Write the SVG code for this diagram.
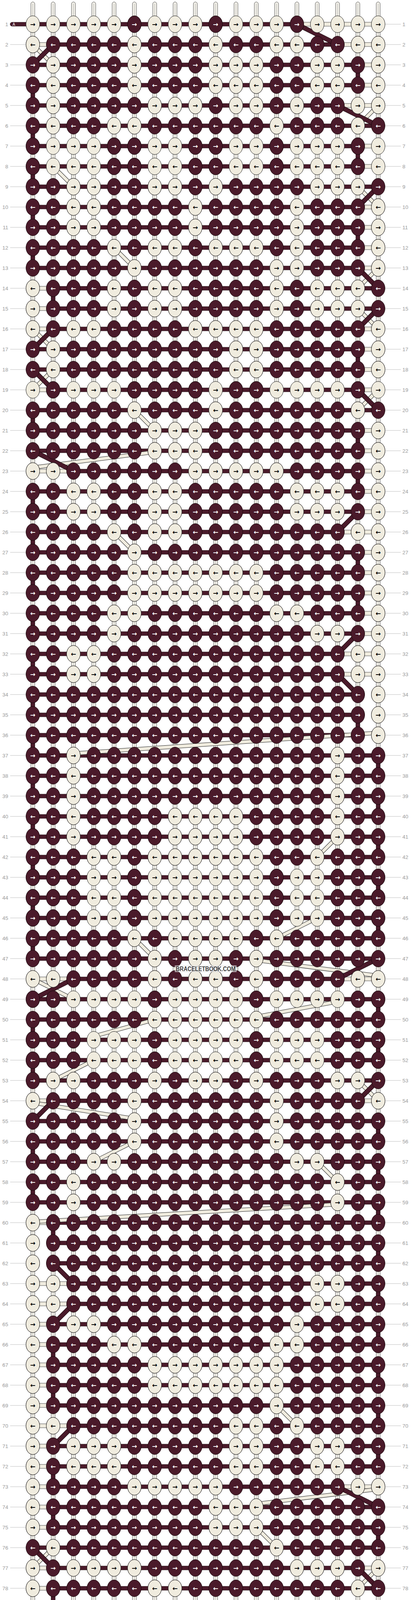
<svg xmlns="http://www.w3.org/2000/svg" xmlns:xlink="http://www.w3.org/1999/xlink" width="1052" height="4960" viewBox="0 0 1052 4960">
<style>
.kd{fill:#4a1a2a;stroke:#140508;stroke-width:1}
.kl{fill:#f0ecdf;stroke:#1a1a1a;stroke-width:1}
.aw,.ab{font-family:"DejaVu Sans",sans-serif;font-weight:bold;font-size:16px;text-anchor:middle;dominant-baseline:central}
.aw{fill:#ffffff}
.ab{fill:#000000}
.hd{fill:#4a1a2a;stroke:#140508;stroke-width:.8}
.hl{fill:#f0ecdf;stroke:#222;stroke-width:.8}
.vs{fill:#f5f3ec;stroke:#222;stroke-width:.8}
.vc{fill:none;stroke:#8a8a8a;stroke-width:.8}
.vd{fill:#4a1a2a;stroke:#140508;stroke-width:.8}
.ddo{fill:none;stroke:#140508;stroke-width:12}
.ddi{fill:none;stroke:#4a1a2a;stroke-width:10}
.dlo{fill:none;stroke:#222;stroke-width:10}
.dli{fill:none;stroke:#f0ecdf;stroke-width:8}
.gl{fill:none;stroke:#bdbdbd;stroke-width:1}
.nl,.nr{font-family:"Liberation Sans",Arial,sans-serif;font-size:13.5px;fill:#9a9a9a}
.nl{text-anchor:end}
.nr{text-anchor:start}
.pa{font-family:"Liberation Sans",Arial,sans-serif;font-size:10px;fill:#ffffff}
.wm{font-family:"Liberation Sans",Arial,sans-serif;font-weight:bold;font-size:16px;fill:#3c3c3c}
</style>
<defs>
<g id="dr"><ellipse class="kd" rx="17.5" ry="21.5"/><text class="aw">→</text></g>
<g id="dl"><ellipse class="kd" rx="17.5" ry="21.5"/><text class="aw">←</text></g>
<g id="lr"><ellipse class="kl" rx="17.5" ry="21.5"/><text class="ab">→</text></g>
<g id="ll"><ellipse class="kl" rx="17.5" ry="21.5"/><text class="ab">←</text></g>
<g id="RDr"><use href="#dr" x="84"/><use href="#dr" x="136"/><use href="#dr" x="188"/><use href="#dr" x="240"/><use href="#dr" x="292"/><use href="#dr" x="344"/><use href="#dr" x="396"/><use href="#dr" x="448"/><use href="#dr" x="500"/><use href="#dr" x="552"/><use href="#dr" x="604"/><use href="#dr" x="656"/><use href="#dr" x="708"/><use href="#dr" x="760"/><use href="#dr" x="812"/><use href="#dr" x="864"/><use href="#dr" x="916"/><use href="#dr" x="968"/></g>
<g id="RDl"><use href="#dl" x="84"/><use href="#dl" x="136"/><use href="#dl" x="188"/><use href="#dl" x="240"/><use href="#dl" x="292"/><use href="#dl" x="344"/><use href="#dl" x="396"/><use href="#dl" x="448"/><use href="#dl" x="500"/><use href="#dl" x="552"/><use href="#dl" x="604"/><use href="#dl" x="656"/><use href="#dl" x="708"/><use href="#dl" x="760"/><use href="#dl" x="812"/><use href="#dl" x="864"/><use href="#dl" x="916"/><use href="#dl" x="968"/></g>
<g id="RLr"><use href="#lr" x="84"/><use href="#lr" x="136"/><use href="#lr" x="188"/><use href="#lr" x="240"/><use href="#lr" x="292"/><use href="#lr" x="344"/><use href="#lr" x="396"/><use href="#lr" x="448"/><use href="#lr" x="500"/><use href="#lr" x="552"/><use href="#lr" x="604"/><use href="#lr" x="656"/><use href="#lr" x="708"/><use href="#lr" x="760"/><use href="#lr" x="812"/><use href="#lr" x="864"/><use href="#lr" x="916"/><use href="#lr" x="968"/></g>
<g id="RLl"><use href="#ll" x="84"/><use href="#ll" x="136"/><use href="#ll" x="188"/><use href="#ll" x="240"/><use href="#ll" x="292"/><use href="#ll" x="344"/><use href="#ll" x="396"/><use href="#ll" x="448"/><use href="#ll" x="500"/><use href="#ll" x="552"/><use href="#ll" x="604"/><use href="#ll" x="656"/><use href="#ll" x="708"/><use href="#ll" x="760"/><use href="#ll" x="812"/><use href="#ll" x="864"/><use href="#ll" x="916"/><use href="#ll" x="968"/></g>
<path id="GL" class="gl" d="M26 0H66M986 0H1026"/>
<path id="GR" class="gl" d="M986 0H1026"/>
</defs>
<rect width="1052" height="4960" fill="#ffffff"/>
<g id="connectors">
<g id="strings">
<rect class="vs" x="79" y="5" width="10" height="4950" rx="5"/><rect class="vs" x="131" y="5" width="10" height="4950" rx="5"/><rect class="vs" x="183" y="5" width="10" height="4950" rx="5"/><rect class="vs" x="235" y="5" width="10" height="4950" rx="5"/><rect class="vs" x="287" y="5" width="10" height="4950" rx="5"/><rect class="vs" x="339" y="5" width="10" height="4950" rx="5"/><rect class="vs" x="391" y="5" width="10" height="4950" rx="5"/><rect class="vs" x="443" y="5" width="10" height="4950" rx="5"/><rect class="vs" x="495" y="5" width="10" height="4950" rx="5"/><rect class="vs" x="547" y="5" width="10" height="4950" rx="5"/><rect class="vs" x="599" y="5" width="10" height="4950" rx="5"/><rect class="vs" x="651" y="5" width="10" height="4950" rx="5"/><rect class="vs" x="703" y="5" width="10" height="4950" rx="5"/><rect class="vs" x="755" y="5" width="10" height="4950" rx="5"/><rect class="vs" x="807" y="5" width="10" height="4950" rx="5"/><rect class="vs" x="859" y="5" width="10" height="4950" rx="5"/><rect class="vs" x="911" y="5" width="10" height="4950" rx="5"/><rect class="vs" x="963" y="5" width="10" height="4950" rx="5"/>
<path class="vc" d="M84 9V4951M136 9V4951M188 9V4951M240 9V4951M292 9V4951M344 9V4951M396 9V4951M448 9V4951M500 9V4951M552 9V4951M604 9V4951M656 9V4951M708 9V4951M760 9V4951M812 9V4951M864 9V4951M916 9V4951M968 9V4951"/>
</g>
<g id="vertical-links">
<rect class="vd" x="911" y="166" width="10" height="52"/><rect class="vd" x="79" y="218" width="10" height="52"/><rect class="vd" x="79" y="322" width="10" height="52"/><rect class="vd" x="911" y="374" width="10" height="52"/><rect class="vd" x="79" y="426" width="10" height="52"/><rect class="vd" x="79" y="530" width="10" height="52"/><rect class="vd" x="911" y="582" width="10" height="52"/><rect class="vd" x="79" y="634" width="10" height="52"/><rect class="vd" x="131" y="738" width="10" height="52"/><rect class="vd" x="911" y="894" width="10" height="52"/><rect class="vd" x="79" y="1050" width="10" height="52"/><rect class="vd" x="911" y="1102" width="10" height="52"/><rect class="vd" x="911" y="1206" width="10" height="52"/><rect class="vd" x="79" y="1258" width="10" height="52"/><rect class="vd" x="79" y="1362" width="10" height="52"/><rect class="vd" x="911" y="1414" width="10" height="52"/><rect class="vd" x="79" y="1466" width="10" height="52"/><rect class="vd" x="911" y="1518" width="10" height="52"/><rect class="vd" x="79" y="1570" width="10" height="52"/><rect class="vd" x="79" y="1674" width="10" height="52"/><rect class="vd" x="79" y="1778" width="10" height="52"/><rect class="vd" x="911" y="1830" width="10" height="52"/><rect class="vd" x="79" y="1882" width="10" height="52"/><rect class="vd" x="963" y="1934" width="10" height="52"/><rect class="vd" x="79" y="1986" width="10" height="52"/><rect class="vd" x="963" y="2038" width="10" height="52"/><rect class="vd" x="79" y="2090" width="10" height="52"/><rect class="vd" x="963" y="2142" width="10" height="52"/><rect class="vd" x="79" y="2194" width="10" height="52"/><rect class="vd" x="963" y="2246" width="10" height="52"/><rect class="vd" x="79" y="2298" width="10" height="52"/><rect class="vd" x="963" y="2350" width="10" height="52"/><rect class="vd" x="79" y="2402" width="10" height="52"/><rect class="vd" x="963" y="2558" width="10" height="52"/><rect class="vd" x="79" y="2610" width="10" height="52"/><rect class="vd" x="963" y="2662" width="10" height="52"/><rect class="vd" x="79" y="2714" width="10" height="52"/><rect class="vd" x="963" y="2870" width="10" height="52"/><rect class="vd" x="79" y="2922" width="10" height="52"/><rect class="vd" x="963" y="2974" width="10" height="52"/><rect class="vd" x="79" y="3026" width="10" height="52"/><rect class="vd" x="963" y="3078" width="10" height="52"/><rect class="vd" x="131" y="3130" width="10" height="52"/><rect class="vd" x="963" y="3182" width="10" height="52"/><rect class="vd" x="963" y="3286" width="10" height="52"/><rect class="vd" x="963" y="3390" width="10" height="52"/><rect class="vd" x="131" y="3442" width="10" height="52"/><rect class="vd" x="963" y="3494" width="10" height="52"/><rect class="vd" x="131" y="3546" width="10" height="52"/><rect class="vd" x="963" y="3598" width="10" height="52"/><rect class="vd" x="963" y="3702" width="10" height="52"/><rect class="vd" x="131" y="3754" width="10" height="52"/><rect class="vd" x="131" y="3858" width="10" height="52"/><rect class="vd" x="963" y="3910" width="10" height="52"/><rect class="vd" x="131" y="4066" width="10" height="52"/><rect class="vd" x="911" y="4222" width="10" height="52"/><rect class="vd" x="963" y="4326" width="10" height="52"/><rect class="vd" x="131" y="4378" width="10" height="52"/><rect class="vd" x="963" y="4430" width="10" height="52"/><rect class="vd" x="963" y="4534" width="10" height="52"/><rect class="vd" x="963" y="4638" width="10" height="52"/><rect class="vd" x="963" y="4742" width="10" height="52"/>
</g>
<g id="row-threads">
<rect class="hd" x="26" y="57" width="734" height="10" rx="5"/><rect class="hl" x="760" y="57" width="208" height="10"/>
<rect class="hl" x="84" y="109" width="52" height="10"/><rect class="hd" x="136" y="109" width="728" height="10"/><rect class="hl" x="864" y="109" width="104" height="10"/>
<rect class="hd" x="84" y="161" width="832" height="10"/><rect class="hl" x="916" y="161" width="52" height="10"/>
<rect class="hd" x="84" y="213" width="832" height="10"/><rect class="hl" x="916" y="213" width="52" height="10"/>
<rect class="hd" x="84" y="265" width="780" height="10"/><rect class="hl" x="864" y="265" width="104" height="10"/>
<rect class="hd" x="84" y="317" width="884" height="10"/>
<rect class="hd" x="84" y="369" width="832" height="10"/><rect class="hl" x="916" y="369" width="52" height="10"/>
<rect class="hd" x="84" y="421" width="832" height="10"/><rect class="hl" x="916" y="421" width="52" height="10"/>
<rect class="hd" x="84" y="473" width="884" height="10"/>
<rect class="hd" x="84" y="525" width="832" height="10"/><rect class="hl" x="916" y="525" width="52" height="10"/>
<rect class="hd" x="84" y="577" width="832" height="10"/><rect class="hl" x="916" y="577" width="52" height="10"/>
<rect class="hd" x="84" y="629" width="832" height="10"/><rect class="hl" x="916" y="629" width="52" height="10"/>
<rect class="hd" x="84" y="681" width="832" height="10"/><rect class="hl" x="916" y="681" width="52" height="10"/>
<rect class="hl" x="84" y="733" width="52" height="10"/><rect class="hd" x="136" y="733" width="832" height="10"/>
<rect class="hl" x="84" y="785" width="52" height="10"/><rect class="hd" x="136" y="785" width="832" height="10"/>
<rect class="hl" x="84" y="837" width="52" height="10"/><rect class="hd" x="136" y="837" width="780" height="10"/><rect class="hl" x="916" y="837" width="52" height="10"/>
<rect class="hd" x="84" y="889" width="832" height="10"/><rect class="hl" x="916" y="889" width="52" height="10"/>
<rect class="hd" x="84" y="941" width="832" height="10"/><rect class="hl" x="916" y="941" width="52" height="10"/>
<rect class="hl" x="84" y="993" width="52" height="10"/><rect class="hd" x="136" y="993" width="780" height="10"/><rect class="hl" x="916" y="993" width="52" height="10"/>
<rect class="hd" x="84" y="1045" width="884" height="10"/>
<rect class="hd" x="84" y="1097" width="832" height="10"/><rect class="hl" x="916" y="1097" width="52" height="10"/>
<rect class="hd" x="84" y="1149" width="832" height="10"/><rect class="hl" x="916" y="1149" width="52" height="10"/>
<rect class="hl" x="84" y="1201" width="104" height="10"/><rect class="hd" x="188" y="1201" width="728" height="10"/><rect class="hl" x="916" y="1201" width="52" height="10"/>
<rect class="hd" x="84" y="1253" width="832" height="10"/><rect class="hl" x="916" y="1253" width="52" height="10"/>
<rect class="hd" x="84" y="1305" width="832" height="10"/><rect class="hl" x="916" y="1305" width="52" height="10"/>
<rect class="hd" x="84" y="1357" width="780" height="10"/><rect class="hl" x="864" y="1357" width="104" height="10"/>
<rect class="hd" x="84" y="1409" width="832" height="10"/><rect class="hl" x="916" y="1409" width="52" height="10"/>
<rect class="hd" x="84" y="1461" width="832" height="10"/><rect class="hl" x="916" y="1461" width="52" height="10"/>
<rect class="hd" x="84" y="1513" width="832" height="10"/><rect class="hl" x="916" y="1513" width="52" height="10"/>
<rect class="hd" x="84" y="1565" width="832" height="10"/><rect class="hl" x="916" y="1565" width="52" height="10"/>
<rect class="hd" x="84" y="1617" width="832" height="10"/><rect class="hl" x="916" y="1617" width="52" height="10"/>
<rect class="hd" x="84" y="1669" width="780" height="10"/><rect class="hl" x="864" y="1669" width="104" height="10"/>
<rect class="hd" x="84" y="1721" width="780" height="10"/><rect class="hl" x="864" y="1721" width="104" height="10"/>
<rect class="hd" x="84" y="1773" width="832" height="10"/>
<rect class="hd" x="84" y="1825" width="832" height="10"/>
<rect class="hd" x="84" y="1877" width="832" height="10"/>
<rect class="hd" x="84" y="1929" width="884" height="10"/>
<rect class="hd" x="84" y="1981" width="884" height="10"/>
<rect class="hd" x="84" y="2033" width="884" height="10"/>
<rect class="hd" x="84" y="2085" width="884" height="10"/>
<rect class="hd" x="84" y="2137" width="884" height="10"/>
<rect class="hd" x="84" y="2189" width="884" height="10"/>
<rect class="hd" x="84" y="2241" width="884" height="10"/>
<rect class="hd" x="84" y="2293" width="884" height="10"/>
<rect class="hd" x="84" y="2345" width="884" height="10"/>
<rect class="hd" x="84" y="2397" width="884" height="10"/>
<rect class="hd" x="84" y="2449" width="884" height="10"/>
<rect class="hl" x="84" y="2501" width="104" height="10"/><rect class="hd" x="188" y="2501" width="676" height="10"/><rect class="hl" x="864" y="2501" width="104" height="10"/>
<rect class="hd" x="84" y="2553" width="884" height="10"/>
<rect class="hd" x="84" y="2605" width="884" height="10"/>
<rect class="hd" x="84" y="2657" width="884" height="10"/>
<rect class="hd" x="84" y="2709" width="884" height="10"/>
<rect class="hd" x="84" y="2761" width="884" height="10"/>
<rect class="hl" x="84" y="2813" width="52" height="10"/><rect class="hd" x="136" y="2813" width="780" height="10"/><rect class="hl" x="916" y="2813" width="52" height="10"/>
<rect class="hd" x="84" y="2865" width="884" height="10"/>
<rect class="hd" x="84" y="2917" width="884" height="10"/>
<rect class="hd" x="84" y="2969" width="884" height="10"/>
<rect class="hd" x="84" y="3021" width="884" height="10"/>
<rect class="hd" x="84" y="3073" width="884" height="10"/>
<rect class="hl" x="84" y="3125" width="52" height="10"/><rect class="hd" x="136" y="3125" width="832" height="10"/>
<rect class="hd" x="136" y="3177" width="832" height="10"/>
<rect class="hd" x="136" y="3229" width="832" height="10"/>
<rect class="hl" x="84" y="3281" width="104" height="10"/><rect class="hd" x="188" y="3281" width="780" height="10"/>
<rect class="hl" x="84" y="3333" width="104" height="10"/><rect class="hd" x="188" y="3333" width="780" height="10"/>
<rect class="hl" x="84" y="3385" width="52" height="10"/><rect class="hd" x="136" y="3385" width="832" height="10"/>
<rect class="hl" x="84" y="3437" width="52" height="10"/><rect class="hd" x="136" y="3437" width="832" height="10"/>
<rect class="hl" x="84" y="3489" width="52" height="10"/><rect class="hd" x="136" y="3489" width="832" height="10"/>
<rect class="hl" x="84" y="3541" width="52" height="10"/><rect class="hd" x="136" y="3541" width="832" height="10"/>
<rect class="hl" x="84" y="3593" width="52" height="10"/><rect class="hd" x="136" y="3593" width="832" height="10"/>
<rect class="hl" x="84" y="3645" width="104" height="10"/><rect class="hd" x="188" y="3645" width="780" height="10"/>
<rect class="hl" x="84" y="3697" width="52" height="10"/><rect class="hd" x="136" y="3697" width="832" height="10"/>
<rect class="hl" x="84" y="3749" width="52" height="10"/><rect class="hd" x="136" y="3749" width="832" height="10"/>
<rect class="hl" x="84" y="3801" width="52" height="10"/><rect class="hd" x="136" y="3801" width="728" height="10"/><rect class="hl" x="864" y="3801" width="104" height="10"/>
<rect class="hl" x="84" y="3853" width="52" height="10"/><rect class="hd" x="136" y="3853" width="832" height="10"/>
<rect class="hl" x="84" y="3905" width="52" height="10"/><rect class="hd" x="136" y="3905" width="832" height="10"/>
<rect class="hd" x="84" y="3957" width="884" height="10"/>
<rect class="hl" x="84" y="4009" width="52" height="10"/><rect class="hd" x="136" y="4009" width="780" height="10"/><rect class="hl" x="916" y="4009" width="52" height="10"/>
<rect class="hl" x="84" y="4061" width="52" height="10"/><rect class="hd" x="136" y="4061" width="832" height="10"/>
<rect class="hl" x="84" y="4113" width="52" height="10"/><rect class="hd" x="136" y="4113" width="832" height="10"/>
<rect class="hl" x="84" y="4165" width="52" height="10"/><rect class="hd" x="136" y="4165" width="780" height="10"/><rect class="hl" x="916" y="4165" width="52" height="10"/>
<rect class="hd" x="84" y="4217" width="832" height="10"/><rect class="hl" x="916" y="4217" width="52" height="10"/>
<rect class="hd" x="84" y="4269" width="832" height="10"/><rect class="hl" x="916" y="4269" width="52" height="10"/>
<rect class="hl" x="84" y="4321" width="52" height="10"/><rect class="hd" x="136" y="4321" width="832" height="10"/>
<rect class="hl" x="84" y="4373" width="52" height="10"/><rect class="hd" x="136" y="4373" width="832" height="10"/>
<rect class="hl" x="84" y="4425" width="52" height="10"/><rect class="hd" x="136" y="4425" width="832" height="10"/>
<rect class="hl" x="84" y="4477" width="52" height="10"/><rect class="hd" x="136" y="4477" width="832" height="10"/>
<rect class="hd" x="84" y="4529" width="884" height="10"/>
<rect class="hl" x="84" y="4581" width="52" height="10"/><rect class="hd" x="136" y="4581" width="832" height="10"/>
<rect class="hd" x="84" y="4633" width="884" height="10"/>
<rect class="hl" x="84" y="4685" width="104" height="10"/><rect class="hd" x="188" y="4685" width="780" height="10"/>
<rect class="hl" x="84" y="4737" width="52" height="10"/><rect class="hd" x="136" y="4737" width="832" height="10"/>
<rect class="hl" x="84" y="4789" width="52" height="10"/><rect class="hd" x="136" y="4789" width="832" height="10"/>
<rect class="hl" x="84" y="4841" width="104" height="10"/><rect class="hd" x="188" y="4841" width="728" height="10"/><rect class="hl" x="916" y="4841" width="52" height="10"/>
<rect class="hd" x="26" y="4893" width="682" height="10" rx="5"/><rect class="hl" x="708" y="4893" width="260" height="10"/>
</g>
<g id="crossings">
<path class="dlo" d="M84 114L136 166M968 270L916 322M136 426L188 478M916 478L968 530M292 634L344 686M968 686L916 738M916 790L968 842M84 842L136 894M136 946L84 998M968 998L916 1050M344 1050L396 1102M396 1157L84 1197M292 1362L344 1414M968 1876L188 1929M864 2142L812 2194M812 2350L708 2402M344 2402L396 2454M656 2458L968 2498M84 2506L188 2558M864 2564L656 2603M396 2610L240 2653M240 2714L136 2766M916 2766L968 2818M84 2823L344 2864M344 2922L240 2974M812 2974L864 3026M864 3083L84 3128M708 3598L760 3650M968 3812L656 3850M656 3910L708 3962M136 3962L84 4014M968 4014L916 4066M916 4118L968 4170M84 4170L136 4222M136 4274L84 4326M708 4326L760 4378M84 4482L136 4534M864 4534L916 4586M84 4586L136 4638"/>
<path class="dli" d="M84 114L136 166M968 270L916 322M136 426L188 478M916 478L968 530M292 634L344 686M968 686L916 738M916 790L968 842M84 842L136 894M136 946L84 998M968 998L916 1050M344 1050L396 1102M396 1157L84 1197M292 1362L344 1414M968 1876L188 1929M864 2142L812 2194M812 2350L708 2402M344 2402L396 2454M656 2458L968 2498M84 2506L188 2558M864 2564L656 2603M396 2610L240 2653M240 2714L136 2766M916 2766L968 2818M84 2823L344 2864M344 2922L240 2974M812 2974L864 3026M864 3083L84 3128M708 3598L760 3650M968 3812L656 3850M656 3910L708 3962M136 3962L84 4014M968 4014L916 4066M916 4118L968 4170M84 4170L136 4222M136 4274L84 4326M708 4326L760 4378M84 4482L136 4534M864 4534L916 4586M84 4586L136 4638"/>
<path class="ddo" d="M760 62L864 114M136 114L84 166M864 270L968 322M968 478L916 530M916 686L968 738M968 790L916 842M136 842L84 894M84 946L136 998M916 998L968 1050M84 1154L188 1206M916 1310L864 1362M916 1622L864 1674M864 1726L916 1778M968 2454L864 2506M188 2506L84 2558M968 2766L916 2818M136 2818L84 2870M136 3234L188 3286M188 3338L136 3390M188 3650L136 3702M864 3806L968 3858M84 3962L136 4014M916 4014L968 4066M968 4118L916 4170M136 4170L84 4222M84 4274L136 4326M136 4482L84 4534M136 4586L84 4638M188 4690L136 4742M136 4794L188 4846"/>
<path class="ddi" d="M760 62L864 114M136 114L84 166M864 270L968 322M968 478L916 530M916 686L968 738M968 790L916 842M136 842L84 894M84 946L136 998M916 998L968 1050M84 1154L188 1206M916 1310L864 1362M916 1622L864 1674M864 1726L916 1778M968 2454L864 2506M188 2506L84 2558M968 2766L916 2818M136 2818L84 2870M136 3234L188 3286M188 3338L136 3390M188 3650L136 3702M864 3806L968 3858M84 3962L136 4014M916 4014L968 4066M968 4118L916 4170M136 4170L84 4222M84 4274L136 4326M136 4482L84 4534M136 4586L84 4638M188 4690L136 4742M136 4794L188 4846"/>
</g>
</g>
<g id="knots">
<g id="row1" transform="translate(0,62)"><use href="#GR"/><text class="nl" x="21" y="5">1</text><text class="nr" x="1030" y="5">1</text><text class="pa" x="32" y="4">A</text><use href="#RLr"/><use href="#dr" x="344"/><use href="#dr" x="552"/><use href="#dr" x="760"/></g>
<g id="row2" transform="translate(0,114)"><use href="#GL"/><text class="nl" x="21" y="5">2</text><text class="nr" x="1030" y="5">2</text><use href="#RDl"/><use href="#ll" x="84"/><use href="#ll" x="344"/><use href="#ll" x="552"/><use href="#ll" x="708"/><use href="#ll" x="760"/><use href="#ll" x="916"/><use href="#ll" x="968"/></g>
<g id="row3" transform="translate(0,166)"><use href="#GL"/><text class="nl" x="21" y="5">3</text><text class="nr" x="1030" y="5">3</text><use href="#RDr"/><use href="#lr" x="136"/><use href="#lr" x="344"/><use href="#lr" x="552"/><use href="#lr" x="604"/><use href="#lr" x="656"/><use href="#lr" x="812"/><use href="#lr" x="864"/><use href="#lr" x="968"/></g>
<g id="row4" transform="translate(0,218)"><use href="#GL"/><text class="nl" x="21" y="5">4</text><text class="nr" x="1030" y="5">4</text><use href="#RDl"/><use href="#ll" x="136"/><use href="#ll" x="344"/><use href="#ll" x="552"/><use href="#ll" x="604"/><use href="#ll" x="656"/><use href="#ll" x="812"/><use href="#ll" x="864"/><use href="#ll" x="968"/></g>
<g id="row5" transform="translate(0,270)"><use href="#GL"/><text class="nl" x="21" y="5">5</text><text class="nr" x="1030" y="5">5</text><use href="#RDr"/><use href="#lr" x="136"/><use href="#lr" x="396"/><use href="#lr" x="448"/><use href="#lr" x="500"/><use href="#lr" x="604"/><use href="#lr" x="656"/><use href="#lr" x="760"/><use href="#lr" x="916"/><use href="#lr" x="968"/></g>
<g id="row6" transform="translate(0,322)"><use href="#GL"/><text class="nl" x="21" y="5">6</text><text class="nr" x="1030" y="5">6</text><use href="#RDl"/><use href="#ll" x="136"/><use href="#ll" x="292"/><use href="#ll" x="344"/><use href="#ll" x="708"/><use href="#ll" x="916"/></g>
<g id="row7" transform="translate(0,374)"><use href="#GL"/><text class="nl" x="21" y="5">7</text><text class="nr" x="1030" y="5">7</text><use href="#RLr"/><use href="#dr" x="84"/><use href="#dr" x="292"/><use href="#dr" x="344"/><use href="#dr" x="500"/><use href="#dr" x="552"/><use href="#dr" x="708"/><use href="#dr" x="916"/></g>
<g id="row8" transform="translate(0,426)"><use href="#GL"/><text class="nl" x="21" y="5">8</text><text class="nr" x="1030" y="5">8</text><use href="#RLl"/><use href="#dl" x="84"/><use href="#dl" x="292"/><use href="#dl" x="344"/><use href="#dl" x="500"/><use href="#dl" x="552"/><use href="#dl" x="708"/><use href="#dl" x="916"/></g>
<g id="row9" transform="translate(0,478)"><use href="#GL"/><text class="nl" x="21" y="5">9</text><text class="nr" x="1030" y="5">9</text><use href="#RDr"/><use href="#lr" x="188"/><use href="#lr" x="240"/><use href="#lr" x="396"/><use href="#lr" x="448"/><use href="#lr" x="552"/><use href="#lr" x="812"/><use href="#lr" x="864"/><use href="#lr" x="916"/></g>
<g id="row10" transform="translate(0,530)"><use href="#GL"/><text class="nl" x="21" y="5">10</text><text class="nr" x="1030" y="5">10</text><use href="#RDl"/><use href="#ll" x="188"/><use href="#ll" x="240"/><use href="#ll" x="500"/><use href="#ll" x="760"/><use href="#ll" x="968"/></g>
<g id="row11" transform="translate(0,582)"><use href="#GL"/><text class="nl" x="21" y="5">11</text><text class="nr" x="1030" y="5">11</text><use href="#RDr"/><use href="#lr" x="188"/><use href="#lr" x="240"/><use href="#lr" x="500"/><use href="#lr" x="760"/><use href="#lr" x="968"/></g>
<g id="row12" transform="translate(0,634)"><use href="#GL"/><text class="nl" x="21" y="5">12</text><text class="nr" x="1030" y="5">12</text><use href="#RDl"/><use href="#ll" x="292"/><use href="#ll" x="396"/><use href="#ll" x="448"/><use href="#ll" x="552"/><use href="#ll" x="604"/><use href="#ll" x="656"/><use href="#ll" x="760"/><use href="#ll" x="968"/></g>
<g id="row13" transform="translate(0,686)"><use href="#GL"/><text class="nl" x="21" y="5">13</text><text class="nr" x="1030" y="5">13</text><use href="#RDr"/><use href="#lr" x="344"/><use href="#lr" x="708"/><use href="#lr" x="760"/><use href="#lr" x="968"/></g>
<g id="row14" transform="translate(0,738)"><use href="#GL"/><text class="nl" x="21" y="5">14</text><text class="nr" x="1030" y="5">14</text><use href="#RDl"/><use href="#ll" x="84"/><use href="#ll" x="292"/><use href="#ll" x="396"/><use href="#ll" x="448"/><use href="#ll" x="708"/><use href="#ll" x="812"/><use href="#ll" x="864"/><use href="#ll" x="916"/></g>
<g id="row15" transform="translate(0,790)"><use href="#GL"/><text class="nl" x="21" y="5">15</text><text class="nr" x="1030" y="5">15</text><use href="#RDr"/><use href="#lr" x="84"/><use href="#lr" x="292"/><use href="#lr" x="396"/><use href="#lr" x="448"/><use href="#lr" x="708"/><use href="#lr" x="812"/><use href="#lr" x="864"/><use href="#lr" x="916"/></g>
<g id="row16" transform="translate(0,842)"><use href="#GL"/><text class="nl" x="21" y="5">16</text><text class="nr" x="1030" y="5">16</text><use href="#RDl"/><use href="#ll" x="84"/><use href="#ll" x="188"/><use href="#ll" x="240"/><use href="#ll" x="500"/><use href="#ll" x="552"/><use href="#ll" x="604"/><use href="#ll" x="656"/><use href="#ll" x="968"/></g>
<g id="row17" transform="translate(0,894)"><use href="#GL"/><text class="nl" x="21" y="5">17</text><text class="nr" x="1030" y="5">17</text><use href="#RDr"/><use href="#lr" x="136"/><use href="#lr" x="604"/><use href="#lr" x="656"/><use href="#lr" x="968"/></g>
<g id="row18" transform="translate(0,946)"><use href="#GL"/><text class="nl" x="21" y="5">18</text><text class="nr" x="1030" y="5">18</text><use href="#RDl"/><use href="#ll" x="136"/><use href="#ll" x="604"/><use href="#ll" x="656"/><use href="#ll" x="968"/></g>
<g id="row19" transform="translate(0,998)"><use href="#GL"/><text class="nl" x="21" y="5">19</text><text class="nr" x="1030" y="5">19</text><use href="#RLr"/><use href="#dr" x="136"/><use href="#dr" x="344"/><use href="#dr" x="396"/><use href="#dr" x="448"/><use href="#dr" x="500"/><use href="#dr" x="604"/><use href="#dr" x="656"/><use href="#dr" x="916"/></g>
<g id="row20" transform="translate(0,1050)"><use href="#GL"/><text class="nl" x="21" y="5">20</text><text class="nr" x="1030" y="5">20</text><use href="#RDl"/><use href="#ll" x="344"/><use href="#ll" x="552"/><use href="#ll" x="916"/></g>
<g id="row21" transform="translate(0,1102)"><use href="#GL"/><text class="nl" x="21" y="5">21</text><text class="nr" x="1030" y="5">21</text><use href="#RDr"/><use href="#lr" x="396"/><use href="#lr" x="448"/><use href="#lr" x="500"/><use href="#lr" x="968"/></g>
<g id="row22" transform="translate(0,1154)"><use href="#GL"/><text class="nl" x="21" y="5">22</text><text class="nr" x="1030" y="5">22</text><use href="#RDl"/><use href="#ll" x="396"/><use href="#ll" x="448"/><use href="#ll" x="500"/><use href="#ll" x="968"/></g>
<g id="row23" transform="translate(0,1206)"><use href="#GL"/><text class="nl" x="21" y="5">23</text><text class="nr" x="1030" y="5">23</text><use href="#RDr"/><use href="#lr" x="84"/><use href="#lr" x="136"/><use href="#lr" x="500"/><use href="#lr" x="552"/><use href="#lr" x="604"/><use href="#lr" x="656"/><use href="#lr" x="708"/><use href="#lr" x="968"/></g>
<g id="row24" transform="translate(0,1258)"><use href="#GL"/><text class="nl" x="21" y="5">24</text><text class="nr" x="1030" y="5">24</text><use href="#RDl"/><use href="#ll" x="188"/><use href="#ll" x="240"/><use href="#ll" x="396"/><use href="#ll" x="448"/><use href="#ll" x="760"/><use href="#ll" x="812"/><use href="#ll" x="864"/><use href="#ll" x="968"/></g>
<g id="row25" transform="translate(0,1310)"><use href="#GL"/><text class="nl" x="21" y="5">25</text><text class="nr" x="1030" y="5">25</text><use href="#RDr"/><use href="#lr" x="188"/><use href="#lr" x="240"/><use href="#lr" x="396"/><use href="#lr" x="448"/><use href="#lr" x="760"/><use href="#lr" x="812"/><use href="#lr" x="864"/><use href="#lr" x="968"/></g>
<g id="row26" transform="translate(0,1362)"><use href="#GL"/><text class="nl" x="21" y="5">26</text><text class="nr" x="1030" y="5">26</text><use href="#RDl"/><use href="#ll" x="292"/><use href="#ll" x="396"/><use href="#ll" x="448"/><use href="#ll" x="916"/><use href="#ll" x="968"/></g>
<g id="row27" transform="translate(0,1414)"><use href="#GL"/><text class="nl" x="21" y="5">27</text><text class="nr" x="1030" y="5">27</text><use href="#RDr"/><use href="#lr" x="344"/><use href="#lr" x="968"/></g>
<g id="row28" transform="translate(0,1466)"><use href="#GL"/><text class="nl" x="21" y="5">28</text><text class="nr" x="1030" y="5">28</text><use href="#RDl"/><use href="#ll" x="344"/><use href="#ll" x="396"/><use href="#ll" x="448"/><use href="#ll" x="500"/><use href="#ll" x="552"/><use href="#ll" x="604"/><use href="#ll" x="656"/><use href="#ll" x="968"/></g>
<g id="row29" transform="translate(0,1518)"><use href="#GL"/><text class="nl" x="21" y="5">29</text><text class="nr" x="1030" y="5">29</text><use href="#RDr"/><use href="#lr" x="344"/><use href="#lr" x="396"/><use href="#lr" x="448"/><use href="#lr" x="500"/><use href="#lr" x="552"/><use href="#lr" x="604"/><use href="#lr" x="656"/><use href="#lr" x="968"/></g>
<g id="row30" transform="translate(0,1570)"><use href="#GL"/><text class="nl" x="21" y="5">30</text><text class="nr" x="1030" y="5">30</text><use href="#RDl"/><use href="#ll" x="292"/><use href="#ll" x="344"/><use href="#ll" x="708"/><use href="#ll" x="760"/><use href="#ll" x="968"/></g>
<g id="row31" transform="translate(0,1622)"><use href="#GL"/><text class="nl" x="21" y="5">31</text><text class="nr" x="1030" y="5">31</text><use href="#RDr"/><use href="#lr" x="292"/><use href="#lr" x="812"/><use href="#lr" x="864"/><use href="#lr" x="968"/></g>
<g id="row32" transform="translate(0,1674)"><use href="#GL"/><text class="nl" x="21" y="5">32</text><text class="nr" x="1030" y="5">32</text><use href="#RDl"/><use href="#ll" x="188"/><use href="#ll" x="240"/><use href="#ll" x="916"/><use href="#ll" x="968"/></g>
<g id="row33" transform="translate(0,1726)"><use href="#GL"/><text class="nl" x="21" y="5">33</text><text class="nr" x="1030" y="5">33</text><use href="#RDr"/><use href="#lr" x="188"/><use href="#lr" x="240"/><use href="#lr" x="916"/><use href="#lr" x="968"/></g>
<g id="row34" transform="translate(0,1778)"><use href="#GL"/><text class="nl" x="21" y="5">34</text><text class="nr" x="1030" y="5">34</text><use href="#RDl"/><use href="#ll" x="968"/></g>
<g id="row35" transform="translate(0,1830)"><use href="#GL"/><text class="nl" x="21" y="5">35</text><text class="nr" x="1030" y="5">35</text><use href="#RDr"/><use href="#lr" x="968"/></g>
<g id="row36" transform="translate(0,1882)"><use href="#GL"/><text class="nl" x="21" y="5">36</text><text class="nr" x="1030" y="5">36</text><use href="#RDl"/><use href="#ll" x="968"/></g>
<g id="row37" transform="translate(0,1934)"><use href="#GL"/><text class="nl" x="21" y="5">37</text><text class="nr" x="1030" y="5">37</text><use href="#RDr"/><use href="#lr" x="188"/><use href="#lr" x="864"/></g>
<g id="row38" transform="translate(0,1986)"><use href="#GL"/><text class="nl" x="21" y="5">38</text><text class="nr" x="1030" y="5">38</text><use href="#RDl"/><use href="#ll" x="188"/><use href="#ll" x="864"/></g>
<g id="row39" transform="translate(0,2038)"><use href="#GL"/><text class="nl" x="21" y="5">39</text><text class="nr" x="1030" y="5">39</text><use href="#RDr"/><use href="#lr" x="188"/><use href="#lr" x="864"/></g>
<g id="row40" transform="translate(0,2090)"><use href="#GL"/><text class="nl" x="21" y="5">40</text><text class="nr" x="1030" y="5">40</text><use href="#RDl"/><use href="#ll" x="188"/><use href="#ll" x="448"/><use href="#ll" x="500"/><use href="#ll" x="552"/><use href="#ll" x="604"/><use href="#ll" x="864"/></g>
<g id="row41" transform="translate(0,2142)"><use href="#GL"/><text class="nl" x="21" y="5">41</text><text class="nr" x="1030" y="5">41</text><use href="#RDr"/><use href="#lr" x="188"/><use href="#lr" x="448"/><use href="#lr" x="500"/><use href="#lr" x="552"/><use href="#lr" x="604"/><use href="#lr" x="864"/></g>
<g id="row42" transform="translate(0,2194)"><use href="#GL"/><text class="nl" x="21" y="5">42</text><text class="nr" x="1030" y="5">42</text><use href="#RDl"/><use href="#ll" x="240"/><use href="#ll" x="292"/><use href="#ll" x="396"/><use href="#ll" x="448"/><use href="#ll" x="500"/><use href="#ll" x="552"/><use href="#ll" x="604"/><use href="#ll" x="656"/><use href="#ll" x="812"/></g>
<g id="row43" transform="translate(0,2246)"><use href="#GL"/><text class="nl" x="21" y="5">43</text><text class="nr" x="1030" y="5">43</text><use href="#RLr"/><use href="#dr" x="84"/><use href="#dr" x="136"/><use href="#dr" x="188"/><use href="#dr" x="344"/><use href="#dr" x="708"/><use href="#dr" x="864"/><use href="#dr" x="916"/><use href="#dr" x="968"/></g>
<g id="row44" transform="translate(0,2298)"><use href="#GL"/><text class="nl" x="21" y="5">44</text><text class="nr" x="1030" y="5">44</text><use href="#RLl"/><use href="#dl" x="84"/><use href="#dl" x="136"/><use href="#dl" x="188"/><use href="#dl" x="344"/><use href="#dl" x="708"/><use href="#dl" x="864"/><use href="#dl" x="916"/><use href="#dl" x="968"/></g>
<g id="row45" transform="translate(0,2350)"><use href="#GL"/><text class="nl" x="21" y="5">45</text><text class="nr" x="1030" y="5">45</text><use href="#RLr"/><use href="#dr" x="84"/><use href="#dr" x="136"/><use href="#dr" x="188"/><use href="#dr" x="344"/><use href="#dr" x="708"/><use href="#dr" x="864"/><use href="#dr" x="916"/><use href="#dr" x="968"/></g>
<g id="row46" transform="translate(0,2402)"><use href="#GL"/><text class="nl" x="21" y="5">46</text><text class="nr" x="1030" y="5">46</text><use href="#RDl"/><use href="#ll" x="344"/><use href="#ll" x="448"/><use href="#ll" x="500"/><use href="#ll" x="552"/><use href="#ll" x="604"/><use href="#ll" x="708"/></g>
<g id="row47" transform="translate(0,2454)"><use href="#GL"/><text class="nl" x="21" y="5">47</text><text class="nr" x="1030" y="5">47</text><use href="#RDr"/><use href="#lr" x="396"/><use href="#lr" x="500"/><use href="#lr" x="552"/><use href="#lr" x="656"/></g>
<g id="row48" transform="translate(0,2506)"><use href="#GL"/><text class="nl" x="21" y="5">48</text><text class="nr" x="1030" y="5">48</text><use href="#RDl"/><use href="#ll" x="84"/><use href="#ll" x="136"/><use href="#ll" x="396"/><use href="#ll" x="500"/><use href="#ll" x="552"/><use href="#ll" x="656"/><use href="#ll" x="916"/><use href="#ll" x="968"/></g>
<g id="row49" transform="translate(0,2558)"><use href="#GL"/><text class="nl" x="21" y="5">49</text><text class="nr" x="1030" y="5">49</text><use href="#RLr"/><use href="#dr" x="84"/><use href="#dr" x="136"/><use href="#dr" x="396"/><use href="#dr" x="656"/><use href="#dr" x="916"/><use href="#dr" x="968"/></g>
<g id="row50" transform="translate(0,2610)"><use href="#GL"/><text class="nl" x="21" y="5">50</text><text class="nr" x="1030" y="5">50</text><use href="#RDl"/><use href="#ll" x="396"/><use href="#ll" x="448"/><use href="#ll" x="500"/><use href="#ll" x="552"/><use href="#ll" x="604"/><use href="#ll" x="656"/></g>
<g id="row51" transform="translate(0,2662)"><use href="#GL"/><text class="nl" x="21" y="5">51</text><text class="nr" x="1030" y="5">51</text><use href="#RLr"/><use href="#dr" x="84"/><use href="#dr" x="136"/><use href="#dr" x="188"/><use href="#dr" x="396"/><use href="#dr" x="656"/><use href="#dr" x="864"/><use href="#dr" x="916"/><use href="#dr" x="968"/></g>
<g id="row52" transform="translate(0,2714)"><use href="#GL"/><text class="nl" x="21" y="5">52</text><text class="nr" x="1030" y="5">52</text><use href="#RLl"/><use href="#dl" x="84"/><use href="#dl" x="136"/><use href="#dl" x="188"/><use href="#dl" x="396"/><use href="#dl" x="656"/><use href="#dl" x="864"/><use href="#dl" x="916"/><use href="#dl" x="968"/></g>
<g id="row53" transform="translate(0,2766)"><use href="#GL"/><text class="nl" x="21" y="5">53</text><text class="nr" x="1030" y="5">53</text><use href="#RDr"/><use href="#lr" x="136"/><use href="#lr" x="188"/><use href="#lr" x="396"/><use href="#lr" x="500"/><use href="#lr" x="552"/><use href="#lr" x="656"/><use href="#lr" x="864"/><use href="#lr" x="916"/></g>
<g id="row54" transform="translate(0,2818)"><use href="#GL"/><text class="nl" x="21" y="5">54</text><text class="nr" x="1030" y="5">54</text><use href="#RDl"/><use href="#ll" x="84"/><use href="#ll" x="344"/><use href="#ll" x="708"/><use href="#ll" x="968"/></g>
<g id="row55" transform="translate(0,2870)"><use href="#GL"/><text class="nl" x="21" y="5">55</text><text class="nr" x="1030" y="5">55</text><use href="#RDr"/><use href="#lr" x="344"/><use href="#lr" x="708"/></g>
<g id="row56" transform="translate(0,2922)"><use href="#GL"/><text class="nl" x="21" y="5">56</text><text class="nr" x="1030" y="5">56</text><use href="#RDl"/><use href="#ll" x="344"/><use href="#ll" x="708"/></g>
<g id="row57" transform="translate(0,2974)"><use href="#GL"/><text class="nl" x="21" y="5">57</text><text class="nr" x="1030" y="5">57</text><use href="#RDr"/><use href="#lr" x="240"/><use href="#lr" x="292"/><use href="#lr" x="760"/><use href="#lr" x="812"/></g>
<g id="row58" transform="translate(0,3026)"><use href="#GL"/><text class="nl" x="21" y="5">58</text><text class="nr" x="1030" y="5">58</text><use href="#RDl"/><use href="#ll" x="188"/><use href="#ll" x="864"/></g>
<g id="row59" transform="translate(0,3078)"><use href="#GL"/><text class="nl" x="21" y="5">59</text><text class="nr" x="1030" y="5">59</text><use href="#RDr"/><use href="#lr" x="188"/><use href="#lr" x="864"/></g>
<g id="row60" transform="translate(0,3130)"><use href="#GL"/><text class="nl" x="21" y="5">60</text><text class="nr" x="1030" y="5">60</text><use href="#RDl"/><use href="#ll" x="84"/></g>
<g id="row61" transform="translate(0,3182)"><use href="#GL"/><text class="nl" x="21" y="5">61</text><text class="nr" x="1030" y="5">61</text><use href="#RDr"/><use href="#lr" x="84"/></g>
<g id="row62" transform="translate(0,3234)"><use href="#GL"/><text class="nl" x="21" y="5">62</text><text class="nr" x="1030" y="5">62</text><use href="#RDl"/><use href="#ll" x="84"/></g>
<g id="row63" transform="translate(0,3286)"><use href="#GL"/><text class="nl" x="21" y="5">63</text><text class="nr" x="1030" y="5">63</text><use href="#RDr"/><use href="#lr" x="84"/><use href="#lr" x="136"/><use href="#lr" x="812"/><use href="#lr" x="864"/></g>
<g id="row64" transform="translate(0,3338)"><use href="#GL"/><text class="nl" x="21" y="5">64</text><text class="nr" x="1030" y="5">64</text><use href="#RDl"/><use href="#ll" x="84"/><use href="#ll" x="136"/><use href="#ll" x="812"/><use href="#ll" x="864"/></g>
<g id="row65" transform="translate(0,3390)"><use href="#GL"/><text class="nl" x="21" y="5">65</text><text class="nr" x="1030" y="5">65</text><use href="#RDr"/><use href="#lr" x="84"/><use href="#lr" x="188"/><use href="#lr" x="240"/><use href="#lr" x="760"/></g>
<g id="row66" transform="translate(0,3442)"><use href="#GL"/><text class="nl" x="21" y="5">66</text><text class="nr" x="1030" y="5">66</text><use href="#RDl"/><use href="#ll" x="84"/><use href="#ll" x="292"/><use href="#ll" x="344"/><use href="#ll" x="708"/><use href="#ll" x="760"/></g>
<g id="row67" transform="translate(0,3494)"><use href="#GL"/><text class="nl" x="21" y="5">67</text><text class="nr" x="1030" y="5">67</text><use href="#RDr"/><use href="#lr" x="84"/><use href="#lr" x="396"/><use href="#lr" x="448"/><use href="#lr" x="500"/><use href="#lr" x="552"/><use href="#lr" x="604"/><use href="#lr" x="656"/><use href="#lr" x="708"/></g>
<g id="row68" transform="translate(0,3546)"><use href="#GL"/><text class="nl" x="21" y="5">68</text><text class="nr" x="1030" y="5">68</text><use href="#RDl"/><use href="#ll" x="84"/><use href="#ll" x="396"/><use href="#ll" x="448"/><use href="#ll" x="500"/><use href="#ll" x="552"/><use href="#ll" x="604"/><use href="#ll" x="656"/><use href="#ll" x="708"/></g>
<g id="row69" transform="translate(0,3598)"><use href="#GL"/><text class="nl" x="21" y="5">69</text><text class="nr" x="1030" y="5">69</text><use href="#RDr"/><use href="#lr" x="84"/><use href="#lr" x="708"/></g>
<g id="row70" transform="translate(0,3650)"><use href="#GL"/><text class="nl" x="21" y="5">70</text><text class="nr" x="1030" y="5">70</text><use href="#RDl"/><use href="#ll" x="84"/><use href="#ll" x="136"/><use href="#ll" x="604"/><use href="#ll" x="656"/><use href="#ll" x="760"/></g>
<g id="row71" transform="translate(0,3702)"><use href="#GL"/><text class="nl" x="21" y="5">71</text><text class="nr" x="1030" y="5">71</text><use href="#RDr"/><use href="#lr" x="84"/><use href="#lr" x="188"/><use href="#lr" x="240"/><use href="#lr" x="292"/><use href="#lr" x="604"/><use href="#lr" x="656"/><use href="#lr" x="812"/><use href="#lr" x="864"/></g>
<g id="row72" transform="translate(0,3754)"><use href="#GL"/><text class="nl" x="21" y="5">72</text><text class="nr" x="1030" y="5">72</text><use href="#RDl"/><use href="#ll" x="84"/><use href="#ll" x="188"/><use href="#ll" x="240"/><use href="#ll" x="292"/><use href="#ll" x="604"/><use href="#ll" x="656"/><use href="#ll" x="812"/><use href="#ll" x="864"/></g>
<g id="row73" transform="translate(0,3806)"><use href="#GL"/><text class="nl" x="21" y="5">73</text><text class="nr" x="1030" y="5">73</text><use href="#RDr"/><use href="#lr" x="84"/><use href="#lr" x="344"/><use href="#lr" x="396"/><use href="#lr" x="448"/><use href="#lr" x="500"/><use href="#lr" x="552"/><use href="#lr" x="916"/><use href="#lr" x="968"/></g>
<g id="row74" transform="translate(0,3858)"><use href="#GL"/><text class="nl" x="21" y="5">74</text><text class="nr" x="1030" y="5">74</text><use href="#RDl"/><use href="#ll" x="84"/><use href="#ll" x="552"/><use href="#ll" x="604"/><use href="#ll" x="656"/></g>
<g id="row75" transform="translate(0,3910)"><use href="#GL"/><text class="nl" x="21" y="5">75</text><text class="nr" x="1030" y="5">75</text><use href="#RDr"/><use href="#lr" x="84"/><use href="#lr" x="552"/><use href="#lr" x="604"/><use href="#lr" x="656"/></g>
<g id="row76" transform="translate(0,3962)"><use href="#GL"/><text class="nl" x="21" y="5">76</text><text class="nr" x="1030" y="5">76</text><use href="#RDl"/><use href="#ll" x="136"/><use href="#ll" x="708"/></g>
<g id="row77" transform="translate(0,4014)"><use href="#GL"/><text class="nl" x="21" y="5">77</text><text class="nr" x="1030" y="5">77</text><use href="#RDr"/><use href="#lr" x="84"/><use href="#lr" x="188"/><use href="#lr" x="240"/><use href="#lr" x="292"/><use href="#lr" x="344"/><use href="#lr" x="760"/><use href="#lr" x="812"/><use href="#lr" x="864"/><use href="#lr" x="968"/></g>
<g id="row78" transform="translate(0,4066)"><use href="#GL"/><text class="nl" x="21" y="5">78</text><text class="nr" x="1030" y="5">78</text><use href="#RDl"/><use href="#ll" x="84"/><use href="#ll" x="396"/><use href="#ll" x="448"/><use href="#ll" x="916"/></g>
<g id="row79" transform="translate(0,4118)"><use href="#GL"/><text class="nl" x="21" y="5">79</text><text class="nr" x="1030" y="5">79</text><use href="#RDr"/><use href="#lr" x="84"/><use href="#lr" x="396"/><use href="#lr" x="448"/><use href="#lr" x="916"/></g>
<g id="row80" transform="translate(0,4170)"><use href="#GL"/><text class="nl" x="21" y="5">80</text><text class="nr" x="1030" y="5">80</text><use href="#RDl"/><use href="#ll" x="84"/><use href="#ll" x="396"/><use href="#ll" x="448"/><use href="#ll" x="500"/><use href="#ll" x="552"/><use href="#ll" x="812"/><use href="#ll" x="864"/><use href="#ll" x="968"/></g>
<g id="row81" transform="translate(0,4222)"><use href="#GL"/><text class="nl" x="21" y="5">81</text><text class="nr" x="1030" y="5">81</text><use href="#RDr"/><use href="#lr" x="136"/><use href="#lr" x="188"/><use href="#lr" x="240"/><use href="#lr" x="344"/><use href="#lr" x="604"/><use href="#lr" x="656"/><use href="#lr" x="760"/><use href="#lr" x="968"/></g>
<g id="row82" transform="translate(0,4274)"><use href="#GL"/><text class="nl" x="21" y="5">82</text><text class="nr" x="1030" y="5">82</text><use href="#RDl"/><use href="#ll" x="136"/><use href="#ll" x="188"/><use href="#ll" x="240"/><use href="#ll" x="344"/><use href="#ll" x="604"/><use href="#ll" x="656"/><use href="#ll" x="760"/><use href="#ll" x="968"/></g>
<g id="row83" transform="translate(0,4326)"><use href="#GL"/><text class="nl" x="21" y="5">83</text><text class="nr" x="1030" y="5">83</text><use href="#RDr"/><use href="#lr" x="84"/><use href="#lr" x="292"/><use href="#lr" x="344"/><use href="#lr" x="708"/></g>
<g id="row84" transform="translate(0,4378)"><use href="#GL"/><text class="nl" x="21" y="5">84</text><text class="nr" x="1030" y="5">84</text><use href="#RDl"/><use href="#ll" x="84"/><use href="#ll" x="292"/><use href="#ll" x="396"/><use href="#ll" x="448"/><use href="#ll" x="500"/><use href="#ll" x="604"/><use href="#ll" x="656"/><use href="#ll" x="760"/></g>
<g id="row85" transform="translate(0,4430)"><use href="#GL"/><text class="nl" x="21" y="5">85</text><text class="nr" x="1030" y="5">85</text><use href="#RDr"/><use href="#lr" x="84"/><use href="#lr" x="292"/><use href="#lr" x="552"/><use href="#lr" x="812"/><use href="#lr" x="864"/></g>
<g id="row86" transform="translate(0,4482)"><use href="#GL"/><text class="nl" x="21" y="5">86</text><text class="nr" x="1030" y="5">86</text><use href="#RDl"/><use href="#ll" x="84"/><use href="#ll" x="292"/><use href="#ll" x="552"/><use href="#ll" x="812"/><use href="#ll" x="864"/></g>
<g id="row87" transform="translate(0,4534)"><use href="#GL"/><text class="nl" x="21" y="5">87</text><text class="nr" x="1030" y="5">87</text><use href="#RDr"/><use href="#lr" x="136"/><use href="#lr" x="188"/><use href="#lr" x="240"/><use href="#lr" x="500"/><use href="#lr" x="604"/><use href="#lr" x="656"/><use href="#lr" x="812"/><use href="#lr" x="864"/></g>
<g id="row88" transform="translate(0,4586)"><use href="#GL"/><text class="nl" x="21" y="5">88</text><text class="nr" x="1030" y="5">88</text><use href="#RLl"/><use href="#dl" x="136"/><use href="#dl" x="344"/><use href="#dl" x="500"/><use href="#dl" x="552"/><use href="#dl" x="708"/><use href="#dl" x="760"/><use href="#dl" x="968"/></g>
<g id="row89" transform="translate(0,4638)"><use href="#GL"/><text class="nl" x="21" y="5">89</text><text class="nr" x="1030" y="5">89</text><use href="#RDr"/><use href="#lr" x="136"/><use href="#lr" x="344"/><use href="#lr" x="708"/><use href="#lr" x="760"/><use href="#lr" x="916"/></g>
<g id="row90" transform="translate(0,4690)"><use href="#GL"/><text class="nl" x="21" y="5">90</text><text class="nr" x="1030" y="5">90</text><use href="#RDl"/><use href="#ll" x="84"/><use href="#ll" x="136"/><use href="#ll" x="292"/><use href="#ll" x="396"/><use href="#ll" x="448"/><use href="#ll" x="552"/><use href="#ll" x="604"/><use href="#ll" x="656"/><use href="#ll" x="916"/></g>
<g id="row91" transform="translate(0,4742)"><use href="#GL"/><text class="nl" x="21" y="5">91</text><text class="nr" x="1030" y="5">91</text><use href="#RDr"/><use href="#lr" x="84"/><use href="#lr" x="188"/><use href="#lr" x="240"/><use href="#lr" x="396"/><use href="#lr" x="448"/><use href="#lr" x="500"/><use href="#lr" x="708"/><use href="#lr" x="916"/></g>
<g id="row92" transform="translate(0,4794)"><use href="#GL"/><text class="nl" x="21" y="5">92</text><text class="nr" x="1030" y="5">92</text><use href="#RDl"/><use href="#ll" x="84"/><use href="#ll" x="188"/><use href="#ll" x="240"/><use href="#ll" x="396"/><use href="#ll" x="448"/><use href="#ll" x="500"/><use href="#ll" x="708"/><use href="#ll" x="916"/></g>
<g id="row93" transform="translate(0,4846)"><use href="#GL"/><text class="nl" x="21" y="5">93</text><text class="nr" x="1030" y="5">93</text><use href="#RDr"/><use href="#lr" x="84"/><use href="#lr" x="136"/><use href="#lr" x="500"/><use href="#lr" x="708"/><use href="#lr" x="968"/></g>
<g id="row94" transform="translate(0,4898)"><use href="#GR"/><text class="nl" x="21" y="5">94</text><text class="nr" x="1030" y="5">94</text><text class="pa" x="32" y="4">A</text><use href="#RLl"/><use href="#dl" x="292"/><use href="#dl" x="500"/><use href="#dl" x="708"/></g>
</g>
<g id="connector-top">
<path class="ddo" d="M903 4852L723 4898"/>
<path class="ddi" d="M903 4852L723 4898"/>
</g>
<g id="watermark">
<rect x="448" y="2472" width="157" height="16" fill="#ffffff" fill-opacity="0.55" stroke="#cfcfcf" stroke-width="0.8"/>
<text class="wm" x="450" y="2486" textLength="153" lengthAdjust="spacingAndGlyphs">BRACELETBOOK.COM</text>
</g>
</svg>
